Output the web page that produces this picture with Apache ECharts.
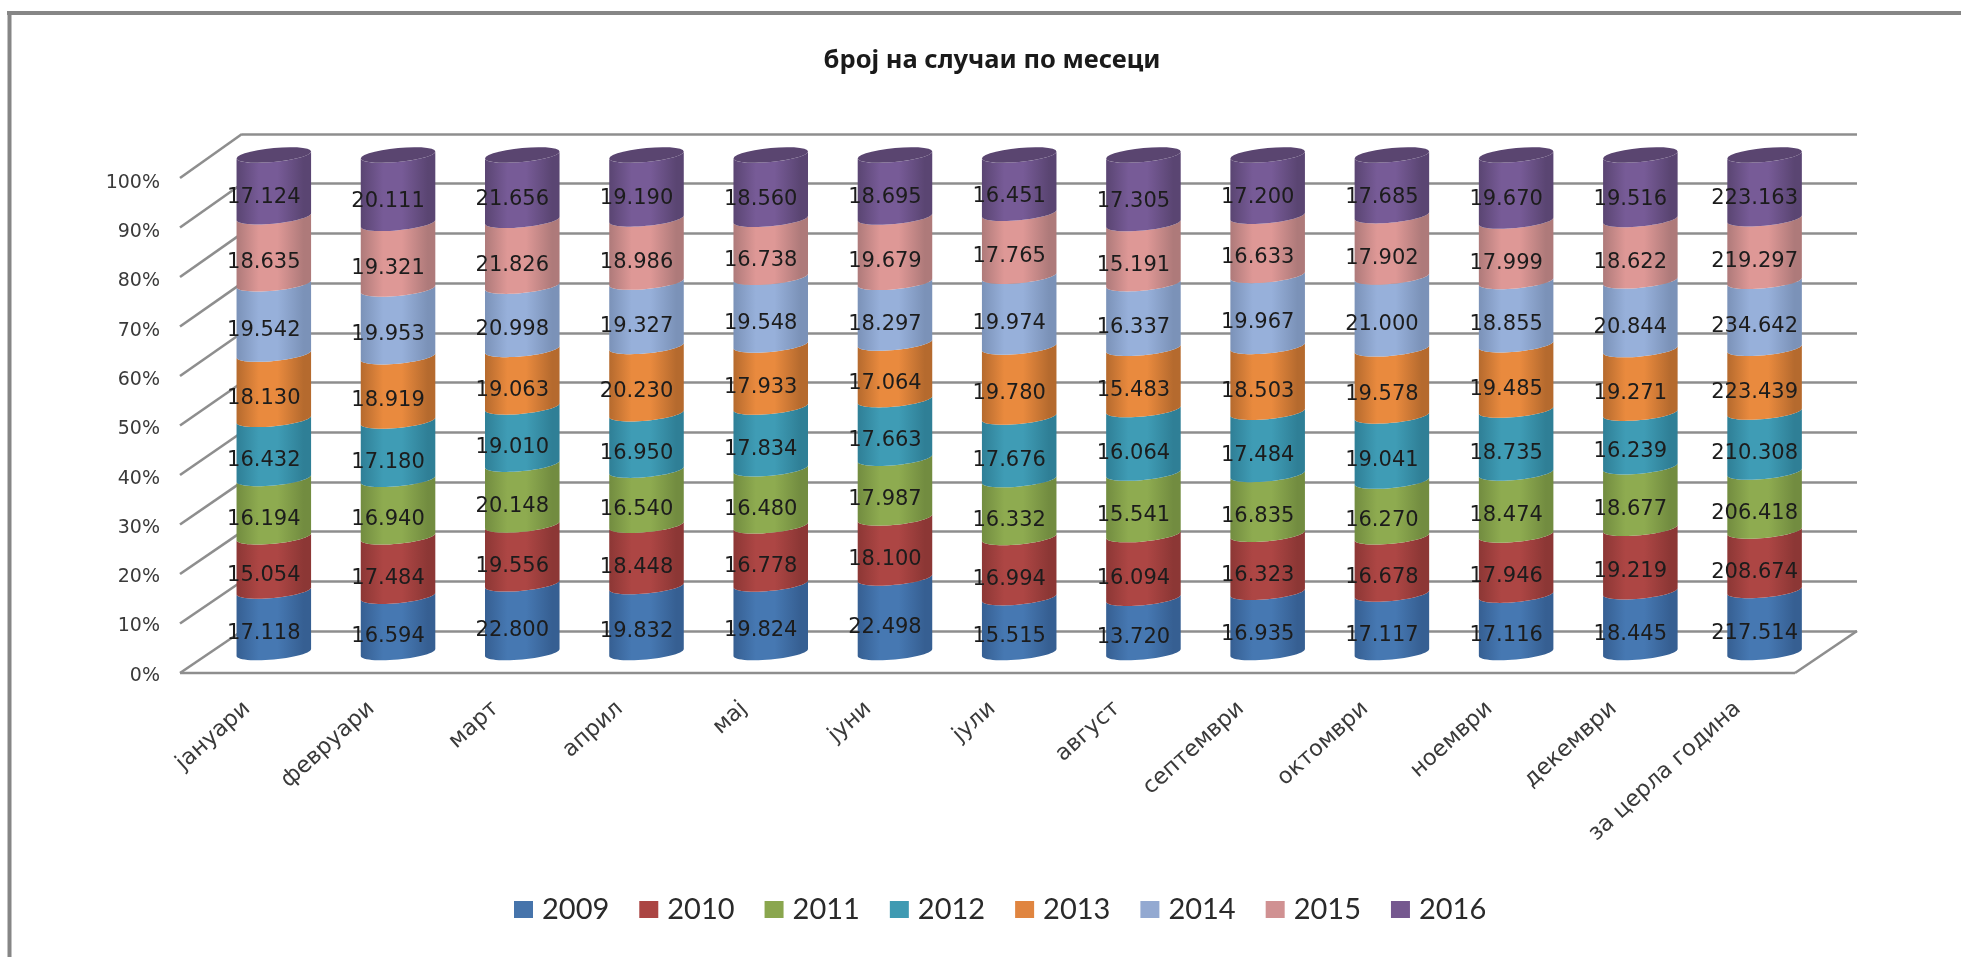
<!DOCTYPE html>
<html><head><meta charset="utf-8">
<style>html,body{margin:0;padding:0;background:#fff}#c{width:1961px;height:957px}#c canvas{filter:blur(0.5px)}</style>
<script src="https://cdn.jsdelivr.net/npm/echarts@6/dist/echarts.min.js"></script>
</head><body><div id="c"></div>
<script>
const categories = ['јануари','февруари','март','април','мај','јуни','јули','август','септември','октомври','ноември','декември','за церла година'];
const years = ['2009','2010','2011','2012','2013','2014','2015','2016'];
const values2009 = [17118,16594,22800,19832,19824,22498,15515,13720,16935,17117,17116,18445,217514];
const values2010 = [15054,17484,19556,18448,16778,18100,16994,16094,16323,16678,17946,19219,208674];
const values2011 = [16194,16940,20148,16540,16480,17987,16332,15541,16835,16270,18474,18677,206418];
const values2012 = [16432,17180,19010,16950,17834,17663,17676,16064,17484,19041,18735,16239,210308];
const values2013 = [18130,18919,19063,20230,17933,17064,19780,15483,18503,19578,19485,19271,223439];
const values2014 = [19542,19953,20998,19327,19548,18297,19974,16337,19967,21000,18855,20844,234642];
const values2015 = [18635,19321,21826,18986,16738,19679,17765,15191,16633,17902,17999,18622,219297];
const values2016 = [17124,20111,21656,19190,18560,18695,16451,17305,17200,17685,19670,19516,223163];
const allValues = [values2009,values2010,values2011,values2012,values2013,values2014,values2015,values2016];
const percentTicks = [0,10,20,30,40,50,60,70,80,90,100];

// swatch, cylinder edge, cylinder centre
const palette = [
  ['#4674ab','#365f92','#4678b2'],
  ['#ab4543','#8c3735','#ad4644'],
  ['#8aa64e','#728c40','#8eab50'],
  ['#3f9ab2','#2f7f96','#3f9cb5'],
  ['#e08540','#b56a2e','#e98a3e'],
  ['#93a9d1','#7b92b8','#97b0da'],
  ['#d09192','#ae7a7a','#de9896'],
  ['#75588f','#5a4572','#775b97']
];
const capColor = '#5a4570';

const FRONT = {left:180, top:178, width:1615, height:495};
const MID   = {left:211.7, top:155, width:1615, height:497.5};
const BACK  = {left:242, top:134, width:1615, height:497};
const LABELS = {left:185, top:183, width:1615, height:492.7};
const FONT = '"DejaVu Sans"';
const TILT = 3.5, RY = 7;

const fmt = v => String(v).replace(/\B(?=(\d{3})+$)/g,'.');

function arc(cx, cy, rx, from, to){
  const pts = [];
  const n = 28;
  for(let i=0;i<=n;i++){
    const t = from + (to-from)*i/n;
    pts.push([cx+rx*Math.cos(t), cy+RY*Math.sin(t)-TILT*Math.cos(t)]);
  }
  return pts;
}

function seriesFor(idx){
  const data = categories.map((c,i)=>{
    const total = allValues.reduce((s,a)=>s+a[i],0);
    let below = 0;
    for(let k=0;k<idx;k++) below += allValues[k][i];
    return [i, below/total*100, (below+allValues[idx][i])/total*100, allValues[idx][i]];
  });
  return {
    name: years[idx], type:'custom', xAxisIndex:1, yAxisIndex:1,
    itemStyle:{color:palette[idx][0]},
    encode:{x:0,y:[1,2]},
    z:5,
    data,
    renderItem(params, api){
      const i = api.value(0), lo = api.value(1), hi = api.value(2), raw = api.value(3);
      const b = api.coord([i,lo]), t = api.coord([i,hi]);
      const rx = api.size([1,0])[0]*0.3;
      const lower = arc(b[0],b[1],rx,0,Math.PI);
      const upper = arc(t[0],t[1],rx,Math.PI,0);
      const children = [{
        type:'polygon',
        shape:{points:lower.concat(upper)},
        style:{fill:{type:'linear',x:0,y:0,x2:1,y2:0,colorStops:[
          {offset:0,color:palette[idx][1]},
          {offset:0.3,color:palette[idx][2]},
          {offset:0.55,color:palette[idx][2]},
          {offset:0.9,color:palette[idx][1]},
          {offset:1,color:palette[idx][1]}]}}
      }];
      if(idx===years.length-1){
        children.push({type:'polygon',shape:{points:arc(t[0],t[1],rx,0,Math.PI*2)},style:{fill:capColor}});
      }
      children.push({type:'text',z2:50,style:{
        text:fmt(raw), x:t[0]-10, y:(b[1]+t[1])/2+12,
        align:'center', verticalAlign:'middle',
        fill:'#1c1c1c', font:'21px '+FONT}});
      return {type:'group',children};
    }
  };
}

const wallSeries = {
  type:'custom', xAxisIndex:0, yAxisIndex:0, silent:true, z:2,
  data: percentTicks.map(p=>[0,p]),
  renderItem(params, api){
    const p = api.value(1);
    const y = api.coord([0,p])[1];
    const by = BACK.top + BACK.height*(1-p/100);
    const st = {stroke:'#8e8e8e',lineWidth:2.6};
    const ch = [{type:'line',shape:{x1:FRONT.left,y1:y,x2:BACK.left,y2:by},style:st}];
    if(p===0){
      const r = FRONT.left+FRONT.width;
      ch.push({type:'line',shape:{x1:FRONT.left,y1:y,x2:r,y2:y},style:st});
      ch.push({type:'line',shape:{x1:r,y1:y,x2:BACK.left+BACK.width,y2:by},style:st});
    }
    return {type:'group',children:ch};
  }
};

const axX = (g,show)=>({type:'category',gridIndex:g,data:categories,
  axisLine:{show:false},axisTick:{show:false},splitLine:{show:false},
  axisLabel:show?{show:true,interval:0,rotate:42,margin:30,color:'#3a3a3a',fontFamily:FONT,fontSize:22.5}:{show:false}});
const axY = (g,show,grid)=>({type:'value',gridIndex:g,min:0,max:100,interval:10,
  axisLine:{show:false},axisTick:{show:false},
  splitLine:grid?{show:true,lineStyle:{color:'#8e8e8e',width:2.6}}:{show:false},
  axisLabel:show?{show:true,margin:25,color:'#3a3a3a',fontFamily:FONT,fontSize:19,formatter:'{value}%'}:{show:false}});

const chart = echarts.init(document.getElementById('c'),null,{renderer:'canvas'});
chart.setOption({
  animation:false,
  backgroundColor:'#fff',
  title:{text:'број на случаи по месеци',left:987,top:43,textAlign:'center',
    textStyle:{fontFamily:'"Noto Sans"',fontWeight:'bold',fontSize:25.5,color:'#1a1a1a'}},
  legend:{data:years,left:509,top:890,icon:'rect',itemWidth:19,itemHeight:17,itemGap:30,
    textStyle:{fontFamily:'Lato',fontSize:29,color:'#2a2a2a',padding:[0,0,0,4]},selectedMode:false},
  grid:[
    {left:FRONT.left,top:FRONT.top,width:FRONT.width,height:FRONT.height},
    {left:MID.left,top:MID.top,width:MID.width,height:MID.height},
    {left:BACK.left,top:BACK.top,width:BACK.width,height:BACK.height},
    {left:LABELS.left,top:LABELS.top,width:LABELS.width,height:LABELS.height}
  ],
  xAxis:[axX(0,false),axX(1,false),axX(2,false),axX(3,true)],
  yAxis:[axY(0,false,false),axY(1,false,false),axY(2,false,true),axY(3,true,false)],
  graphic:[
    {type:'line',shape:{x1:7,y1:13,x2:1961,y2:13},style:{stroke:'#868686',lineWidth:4}},
    {type:'line',shape:{x1:9.5,y1:11,x2:9.5,y2:957},style:{stroke:'#868686',lineWidth:4}}
  ],
  series:[wallSeries].concat(years.map((y,i)=>seriesFor(i)))
});
</script></body></html>
